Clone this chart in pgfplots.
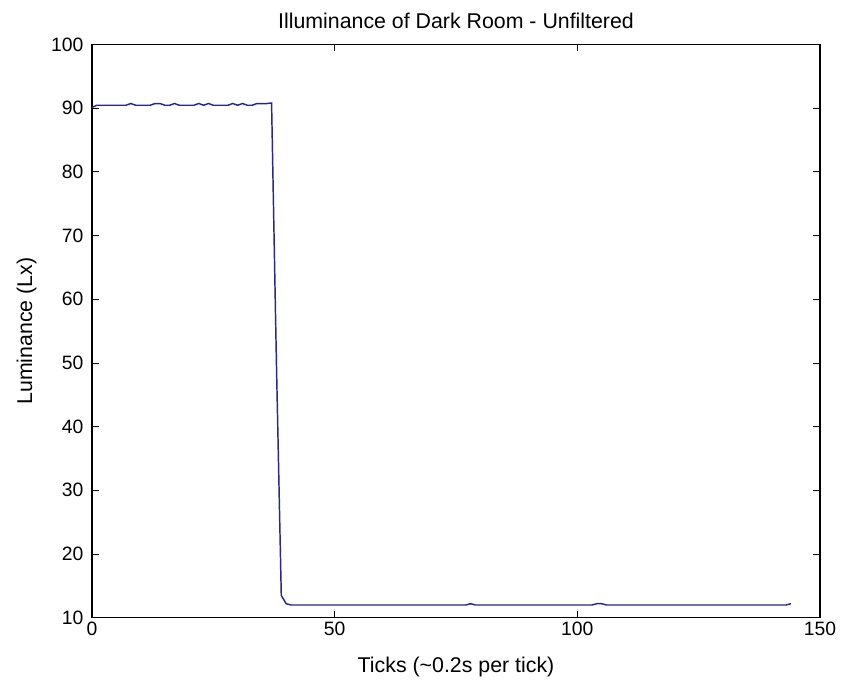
\documentclass[border=0pt]{standalone}
\usepackage{pgfplots}
\pgfplotsset{compat=1.18}
\usepackage{fontspec}
\setmainfont{Liberation Sans}
\definecolor{lineblue}{RGB}{40,40,140}
\begin{document}
\begin{tikzpicture}
\begin{axis}[
  scale only axis,
  width=546pt, height=430pt,
  at={(0,0)}, anchor=south west,
  xmin=0, xmax=150, ymin=10, ymax=100,
  xtick={0,50,100,150}, ytick={10,20,...,100},
  tick align=inside,
  xtick pos=both, ytick pos=both,
  major tick length=5pt,
  axis line style={black, line width=0.8pt},
  every tick/.style={black, line width=0.6pt},
  /pgf/number format/assume math mode=true,
  tick label style={font=\fontsize{14.5pt}{17pt}\selectfont},
  yticklabel style={xshift=-3pt},
  label style={font=\fontsize{16pt}{19pt}\selectfont},
  title style={font=\fontsize{16pt}{19pt}\selectfont, yshift=2pt},
  title={Illuminance of Dark Room - Unfiltered},
  xlabel={Ticks (\textasciitilde0.2s per tick)},
  ylabel={Luminance (Lx)},
  xlabel style={yshift=-9pt},
  ylabel style={yshift=4pt},
]
\addplot[lineblue, line width=1.1pt] coordinates {
(0,90.1)(1,90.45)(2,90.45)(3,90.45)(4,90.45)(5,90.45)(6,90.45)(7,90.45)(8,90.72)(9,90.45)
(10,90.45)(11,90.45)(12,90.45)(13,90.72)(14,90.72)(15,90.45)(16,90.45)(17,90.72)(18,90.45)(19,90.45)
(20,90.45)(21,90.45)(22,90.72)(23,90.45)(24,90.72)(25,90.45)(26,90.45)(27,90.45)(28,90.45)(29,90.72)
(30,90.45)(31,90.72)(32,90.45)(33,90.45)(34,90.72)(35,90.72)(36,90.72)(37,90.8)
(38,50)(39,13.5)(40,12.2)(41,12.0)(42,12.0)(43,12.0)(44,12.0)(45,12.0)(46,12.0)(47,12.0)(48,12.0)(49,12.0)
(50,12.0)(55,12.0)(60,12.0)(65,12.0)(70,12.0)(75,12.0)(76,12.0)(77,12.0)(78,12.2)(79,12.0)(80,12.0)
(85,12.0)(90,12.0)(95,12.0)(100,12.0)(101,12.0)(102,12.0)(103,12.0)(104,12.2)(105,12.2)(106,12.0)(107,12.0)
(110,12.0)(115,12.0)(120,12.0)(125,12.0)(130,12.0)(135,12.0)(140,12.0)(142,12.0)(143,12.0)(144,12.2)
};
\end{axis}
\pgfresetboundingbox
\path[use as bounding box] (-69pt,-49.7pt) rectangle (561.75pt,463.3pt);
\end{tikzpicture}
\end{document}
